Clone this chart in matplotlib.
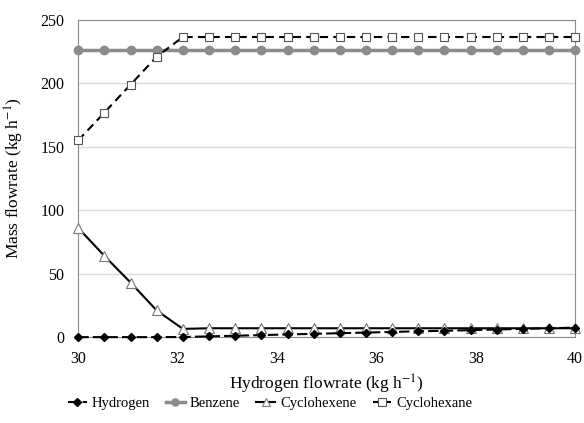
import numpy as np
import matplotlib
matplotlib.use('Agg')
import matplotlib.pyplot as plt

plt.rcParams['font.family'] = ['Liberation Serif', 'DejaVu Serif']
plt.rcParams['mathtext.fontset'] = 'stix'

h2_flow = np.linspace(30, 40, 20)
hydrogen = [0, 0, 0, 0, 0.1, 0.6, 1.1, 1.6, 2.1, 2.6, 3.1, 3.6, 4.1, 4.6, 5.0, 5.5, 6.0, 6.5, 7.0, 7.5]
benzene = [226] * 20
cyclohexene = [86, 64, 43, 21, 6.5] + [7] * 15
cyclohexane = [155, 177, 199, 221, 236.5] + [236.5] * 15

fig = plt.figure(figsize=(5.84, 4.23), dpi=100)
ax = fig.add_axes([0.134, 0.203, 0.851, 0.750])

ax.plot(h2_flow, benzene, color="#8c8c8c", lw=2.5, marker="o", ms=6,
        label="Benzene", zorder=3, clip_on=False)
ax.plot(h2_flow, cyclohexane, color="black", lw=1.5, ls=(0, (4, 2.5)), marker="s", ms=6,
        mfc="white", mec="#555555", mew=0.8, label="Cyclohexane", zorder=4, clip_on=False)
ax.plot(h2_flow, cyclohexene, color="black", lw=1.5, marker="^", ms=6.5,
        mfc="white", mec="#777777", mew=0.8, label="Cyclohexene", zorder=4, clip_on=False)
ax.plot(h2_flow, hydrogen, color="black", lw=1.5, ls=(0, (5, 2)), marker="D", ms=4.5,
        label="Hydrogen", zorder=5, clip_on=False)

ax.set_xlim(30, 40)
ax.set_ylim(0, 250)
ax.set_xticks(range(30, 41, 2))
ax.set_yticks(range(0, 251, 50))
ax.tick_params(length=0, labelsize=11.5, pad=10)
ax.grid(axis="y", color="#d9d9d9", lw=1)
ax.set_axisbelow(True)
for s in ax.spines.values():
    s.set_color("#8c8c8c")

ax.set_xlabel(r"Hydrogen flowrate (kg h$^{-1}$)", fontsize=12.5, labelpad=4)
ax.set_ylabel(r"Mass flowrate (kg h$^{-1}$)", fontsize=12.5, labelpad=10)

handles, labels = ax.get_legend_handles_labels()
order = [3, 0, 2, 1]
ax.legend([handles[i] for i in order], [labels[i] for i in order],
          loc="center", bbox_to_anchor=(0.386, -0.21), ncol=4, frameon=False,
          fontsize=10.5, handlelength=1.3, handletextpad=0.35, columnspacing=1.1,
          borderaxespad=0, markerscale=0.85)

fig.savefig("out.png", dpi=100)
